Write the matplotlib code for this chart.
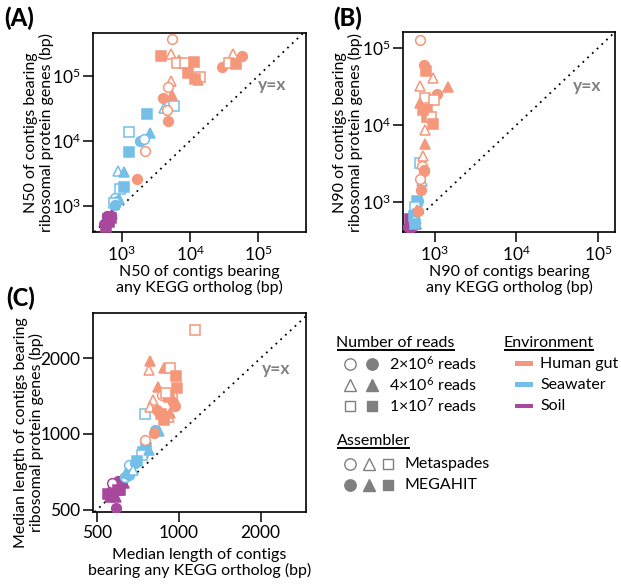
import matplotlib
matplotlib.use("Agg")
import matplotlib.pyplot as plt
from matplotlib.ticker import FixedLocator, FixedFormatter, NullLocator
from matplotlib.patches import Rectangle

plt.rcParams['font.family'] = ['Lato', 'DejaVu Sans']
plt.rcParams['mathtext.fontset'] = 'custom'
plt.rcParams['mathtext.rm'] = 'Lato'
plt.rcParams['mathtext.default'] = 'regular'

# ---------------- data ----------------
environments = ['Human gut', 'Seawater', 'Soil']
read_levels = ['2e6', '4e6', '1e7']
read_labels = ['2×10$^{6}$ reads', '4×10$^{6}$ reads', '1×10$^{7}$ reads']
assemblers = ['Metaspades', 'MEGAHIT']

# Panel A: N50
a_gut_reads = ['2e6', '1e7', '4e6', '4e6', '1e7', '1e7', '1e7', '1e7', '1e7', '1e7', '4e6', '4e6',
               '2e6', '2e6', '1e7', '1e7', '4e6', '2e6', '4e6', '2e6', '2e6', '2e6', '2e6', '2e6']
a_gut_asm = ['Metaspades', 'MEGAHIT', 'Metaspades', 'MEGAHIT', 'Metaspades', 'Metaspades', 'MEGAHIT',
             'MEGAHIT', 'Metaspades', 'MEGAHIT', 'MEGAHIT', 'Metaspades', 'MEGAHIT', 'MEGAHIT',
             'Metaspades', 'MEGAHIT', 'Metaspades', 'Metaspades', 'MEGAHIT', 'MEGAHIT', 'Metaspades',
             'MEGAHIT', 'Metaspades', 'MEGAHIT']
a_gut_x = [5500, 3760, 5260, 6960, 6380, 8450, 11560, 9250, 14000, 11800, 13200, 43000,
           57000, 29000, 37600, 46800, 5260, 4790, 5500, 4000, 4570, 4790, 2190, 1660]
a_gut_y = [367000, 205000, 218000, 176000, 160000, 160000, 162000, 112000, 95000, 89000, 87000, 218000,
           200000, 138000, 157000, 151000, 85000, 68000, 51000, 46000, 30000, 20000, 6900, 2570]

a_sea_reads = ['1e7', '4e6', '1e7', '1e7', '4e6', '2e6', '2e6', '1e7', '4e6', '4e6', '1e7', '1e7',
               '2e6', '2e6', '4e6', '1e7', '2e6']
a_sea_asm = ['Metaspades', 'Metaspades', 'MEGAHIT', 'Metaspades', 'MEGAHIT', 'MEGAHIT', 'Metaspades',
             'MEGAHIT', 'Metaspades', 'MEGAHIT', 'Metaspades', 'MEGAHIT', 'Metaspades', 'MEGAHIT',
             'MEGAHIT', 'Metaspades', 'MEGAHIT']
a_sea_x = [5900, 4170, 2320, 1260, 2570, 1860, 2140, 1260, 880, 1100, 930, 1070, 790, 850, 910, 760, 810]
a_sea_y = [34700, 31600, 26000, 13600, 13200, 10100, 10700, 6800, 3470, 3310, 1820, 1950, 1320, 1200,
           1260, 1120, 1050]

a_soil_reads = ['2e6', '4e6', '1e7', '2e6', '4e6', '1e7', '2e6', '4e6', '1e7', '2e6', '1e7']
a_soil_asm = ['MEGAHIT', 'MEGAHIT', 'MEGAHIT', 'Metaspades', 'MEGAHIT', 'MEGAHIT', 'MEGAHIT',
              'Metaspades', 'MEGAHIT', 'MEGAHIT', 'MEGAHIT']
a_soil_x = [560, 600, 640, 690, 720, 580, 620, 660, 700, 610, 650]
a_soil_y = [520, 590, 640, 700, 760, 480, 560, 600, 650, 700, 560]

# Panel B: N90
b_gut_reads = ['2e6', '2e6', '1e7', '4e6', '4e6', '4e6', '2e6', '1e7', '4e6', '1e7', '1e7', '1e7',
               '1e7', '1e7', '4e6', '4e6', '4e6', '2e6', '2e6', '2e6', '2e6', '2e6', '1e7', '2e6']
b_gut_asm = ['Metaspades', 'MEGAHIT', 'MEGAHIT', 'Metaspades', 'Metaspades', 'MEGAHIT', 'MEGAHIT',
             'Metaspades', 'MEGAHIT', 'Metaspades', 'MEGAHIT', 'MEGAHIT', 'Metaspades', 'MEGAHIT',
             'Metaspades', 'MEGAHIT', 'Metaspades', 'Metaspades', 'MEGAHIT', 'Metaspades', 'MEGAHIT',
             'MEGAHIT', 'MEGAHIT', 'MEGAHIT']
b_gut_x = [655, 733, 770, 946, 655, 1460, 1070, 748, 655, 977, 794, 813,
           903, 946, 769, 748, 713, 701, 733, 655, 676, 630, 708, 740]
b_gut_y = [128000, 60000, 50000, 40700, 32400, 31000, 25100, 22400, 19500, 20900, 15800, 12900,
           12600, 10200, 8700, 5600, 4000, 2950, 2500, 2000, 1440, 760, 15500, 2630]

b_sea_reads = ['1e7', '4e6', '2e6', '1e7', '2e6', '1e7', '4e6', '2e6', '1e7', '4e6', '2e6', '1e7']
b_sea_asm = ['Metaspades', 'Metaspades', 'MEGAHIT', 'MEGAHIT', 'Metaspades', 'Metaspades', 'MEGAHIT',
             'MEGAHIT', 'MEGAHIT', 'Metaspades', 'Metaspades', 'MEGAHIT']
b_sea_x = [655, 701, 630, 610, 590, 575, 600, 575, 560, 590, 550, 575]
b_sea_y = [3240, 1900, 1020, 1020, 910, 850, 790, 720, 660, 600, 560, 525]

b_soil_reads = ['2e6', '4e6', '1e7', '2e6', '4e6', '1e7', '2e6', '4e6', '1e7', '1e7']
b_soil_asm = ['MEGAHIT', 'MEGAHIT', 'MEGAHIT', 'MEGAHIT', 'Metaspades', 'MEGAHIT', 'MEGAHIT',
              'MEGAHIT', 'MEGAHIT', 'MEGAHIT']
b_soil_x = [470, 500, 520, 540, 560, 490, 530, 580, 510, 550]
b_soil_y = [480, 500, 520, 540, 560, 600, 470, 510, 550, 530]

# Panel C: median length
c_gut_reads = ['1e7', '4e6', '4e6', '4e6', '1e7', '1e7', '4e6', '1e7', '2e6', '2e6', '2e6', '4e6',
               '4e6', '2e6', '1e7', '2e6', '4e6', '1e7', '2e6', '2e6', '1e7', '2e6', '1e7', '4e6']
c_gut_asm = ['Metaspades', 'MEGAHIT', 'Metaspades', 'MEGAHIT', 'Metaspades', 'MEGAHIT', 'MEGAHIT',
             'MEGAHIT', 'Metaspades', 'Metaspades', 'MEGAHIT', 'Metaspades', 'Metaspades', 'MEGAHIT',
             'MEGAHIT', 'MEGAHIT', 'Metaspades', 'MEGAHIT', 'MEGAHIT', 'Metaspades', 'MEGAHIT',
             'MEGAHIT', 'Metaspades', 'MEGAHIT']
c_gut_x = [1146, 785, 775, 885, 931, 980, 839, 986, 868, 945, 967, 802,
           786, 830, 860, 900, 918, 880, 809, 754, 920, 950, 900, 930]
c_gut_y = [2575, 1941, 1797, 1826, 1826, 1690, 1534, 1520, 1429, 1408, 1292, 1365,
           1284, 1240, 1200, 1180, 1172, 1140, 1006, 947, 1400, 1340, 1450, 1210]

c_sea_reads = ['1e7', '4e6', '2e6', '1e7', '1e7', '1e7', '4e6', '2e6', '2e6', '2e6', '2e6', '4e6',
               '1e7', '4e6']
c_sea_asm = ['Metaspades', 'MEGAHIT', 'MEGAHIT', 'MEGAHIT', 'MEGAHIT', 'Metaspades', 'MEGAHIT',
             'Metaspades', 'MEGAHIT', 'Metaspades', 'MEGAHIT', 'Metaspades', 'MEGAHIT', 'MEGAHIT']
c_sea_x = [754, 844, 820, 760, 740, 730, 775, 658, 692, 633, 654, 680, 700, 640]
c_sea_y = [1201, 1031, 1037, 876, 850, 825, 860, 753, 764, 676, 687, 720, 780, 700]

c_soil_reads = ['2e6', '4e6', '1e7', '2e6', '4e6', '1e7', '2e6', '4e6', '1e7', '2e6', '1e7', '4e6']
c_soil_asm = ['MEGAHIT', 'MEGAHIT', 'MEGAHIT', 'Metaspades', 'MEGAHIT', 'MEGAHIT', 'Metaspades',
              'MEGAHIT', 'MEGAHIT', 'MEGAHIT', 'MEGAHIT', 'MEGAHIT']
c_soil_x = [600, 620, 580, 560, 590, 610, 570, 630, 550, 588, 600, 560]
c_soil_y = [650, 660, 620, 590, 560, 600, 640, 640, 580, 506, 600, 560]

# ---------------- styles ----------------
env_colors = {'Human gut': '#F4977B', 'Seawater': '#74BFE8', 'Soil': '#A8489D'}
read_markers = {'2e6': 'o', '4e6': '^', '1e7': 's'}
marker_sizes = {'o': 7.0, '^': 7.8, 's': 6.6}
legend_gray = '#7F7F7F'
label_fs = 11.5
tick_fs = 12.5

W, H = 621, 585
fig = plt.figure(figsize=(W / 100, H / 100), dpi=100)


def px_axes(l, t, r, b):
    return fig.add_axes([l / W, 1 - b / H, (r - l) / W, (b - t) / H])


def draw_points(ax, env, reads, asm, xs, ys):
    col = env_colors[env]
    for r, a, x, y in zip(reads, asm, xs, ys):
        m = read_markers[r]
        filled = (a == 'MEGAHIT')
        ax.plot([x], [y], marker=m, ls='none', ms=marker_sizes[m],
                mfc=col if filled else 'white', mec=col, mew=1.1, zorder=3)


def style_axes(ax):
    for s in ax.spines.values():
        s.set_linewidth(1.2)
    ax.tick_params(direction='out', length=7.5, width=1.1, labelsize=tick_fs, pad=1.5)
    ax.xaxis.set_minor_locator(NullLocator())
    ax.yaxis.set_minor_locator(NullLocator())


def yx_line(ax, p1, p2, label_pos):
    ax.axline(p1, p2, color='black', lw=1.3, ls=(0, (1, 2.6)), zorder=2)
    ax.text(label_pos[0], label_pos[1], 'y=x', transform=ax.transAxes, color='#808080',
            fontsize=12.5, fontweight='bold', ha='center', va='center')


def set_labels(ax, xl, yl, xlabel_top_px, ylabel_right_px, ylabel_center_px, ax_box):
    l, t, r, b = ax_box
    ax.set_xlabel(xl, fontsize=label_fs, linespacing=1.1, va='top')
    ax.xaxis.set_label_coords(0.5, (b - xlabel_top_px) / (b - t))
    ax.set_ylabel(yl, fontsize=label_fs, linespacing=1.1, va='bottom')
    ax.yaxis.set_label_coords((ylabel_right_px - l) / (r - l), (b - ylabel_center_px) / (b - t))


pow_ticks = [1e3, 1e4, 1e5]
pow_labels = ['$10^{3}$', '$10^{4}$', '$10^{5}$']

# Panel A
boxA = (93, 33, 306, 232)
axA = px_axes(*boxA)
axA.set_xscale('log'); axA.set_yscale('log')
draw_points(axA, 'Soil', a_soil_reads, a_soil_asm, a_soil_x, a_soil_y)
draw_points(axA, 'Seawater', a_sea_reads, a_sea_asm, a_sea_x, a_sea_y)
draw_points(axA, 'Human gut', a_gut_reads, a_gut_asm, a_gut_x, a_gut_y)
axA.set_xlim(10 ** 2.58, 10 ** 5.70)
axA.set_ylim(10 ** 2.60, 10 ** 5.66)
yx_line(axA, (1e3, 1e3), (1e4, 1e4), (0.84, 0.74))
for axis in (axA.xaxis, axA.yaxis):
    axis.set_major_locator(FixedLocator(pow_ticks))
    axis.set_major_formatter(FixedFormatter(pow_labels))
style_axes(axA)
set_labels(axA, 'N50 of contigs bearing\nany KEGG ortholog (bp)',
           'N50 of contigs bearing\nribosomal protein genes (bp)', 265, 54, 132.5, boxA)

# Panel B
boxB = (403, 32, 615, 232)
axB = px_axes(*boxB)
axB.set_xscale('log'); axB.set_yscale('log')
draw_points(axB, 'Soil', b_soil_reads, b_soil_asm, b_soil_x, b_soil_y)
draw_points(axB, 'Seawater', b_sea_reads, b_sea_asm, b_sea_x, b_sea_y)
draw_points(axB, 'Human gut', b_gut_reads, b_gut_asm, b_gut_x, b_gut_y)
axB.set_xlim(10 ** 2.61, 10 ** 5.21)
axB.set_ylim(10 ** 2.61, 10 ** 5.21)
yx_line(axB, (1e3, 1e3), (1e4, 1e4), (0.867, 0.73))
for axis in (axB.xaxis, axB.yaxis):
    axis.set_major_locator(FixedLocator(pow_ticks))
    axis.set_major_formatter(FixedFormatter(pow_labels))
style_axes(axB)
set_labels(axB, 'N90 of contigs bearing\nany KEGG ortholog (bp)',
           'N90 of contigs bearing\nribosomal protein genes (bp)', 265, 363, 132.5, boxB)

# Panel C
lin_ticks = [500, 1000, 2000]
lin_labels = ['500', '1000', '2000']
boxC = (93, 313, 306, 512)
axC = px_axes(*boxC)
axC.set_xscale('log'); axC.set_yscale('log')
draw_points(axC, 'Soil', c_soil_reads, c_soil_asm, c_soil_x, c_soil_y)
draw_points(axC, 'Seawater', c_sea_reads, c_sea_asm, c_sea_x, c_sea_y)
draw_points(axC, 'Human gut', c_gut_reads, c_gut_asm, c_gut_x, c_gut_y)
axC.set_xlim(484, 2934)
axC.set_ylim(490, 3019)
yx_line(axC, (1000, 1000), (2000, 2000), (0.86, 0.72))
for axis in (axC.xaxis, axC.yaxis):
    axis.set_major_locator(FixedLocator(lin_ticks))
    axis.set_major_formatter(FixedFormatter(lin_labels))
style_axes(axC)
set_labels(axC, 'Median length of contigs\nbearing any KEGG ortholog (bp)',
           'Median length of contigs bearing\nribosomal protein genes (bp)', 548, 44, 433, boxC)

# Panel letters
for lab, (x, y) in zip(['(A)', '(B)', '(C)'], [(4, 18), (333, 18), (6, 298)]):
    fig.text(x / W, 1 - y / H, lab, fontsize=17, fontweight='black', ha='left', va='center')

# ---------------- legend ----------------
lg = fig.add_axes([300 / W, 1 - 525 / H, 321 / W, 205 / H])
lg.set_xlim(300, 621)
lg.set_ylim(525, 320)
lg.axis('off')

titles = []
titles.append(lg.text(336.5, 342.5, 'Number of reads', fontsize=label_fs, ha='left', va='center'))
titles.append(lg.text(336.5, 440.5, 'Assembler', fontsize=label_fs, ha='left', va='center'))
titles.append(lg.text(503.5, 342.5, 'Environment', fontsize=label_fs, ha='left', va='center'))

row_y = [363.5, 384.5, 406]
for i, r in enumerate(read_levels):
    m = read_markers[r]
    lg.plot([349.5], [row_y[i]], marker=m, ls='none', ms=marker_sizes[m] + 1.2, mfc='white',
            mec=legend_gray, mew=1.0, clip_on=False)
    lg.plot([371.5], [row_y[i]], marker=m, ls='none', ms=marker_sizes[m] + 1.2, mfc=legend_gray,
            mec=legend_gray, mew=1.0, clip_on=False)
    lg.text(389, row_y[i], read_labels[i], fontsize=label_fs, ha='left', va='center')

asm_y = [463.5, 485]
for j, a in enumerate(assemblers):
    for k, r in enumerate(read_levels):
        m = read_markers[r]
        lg.plot([349.5 + 19 * k], [asm_y[j]], marker=m, ls='none', ms=marker_sizes[m] + 1.2,
                mfc=legend_gray if a == 'MEGAHIT' else 'white', mec=legend_gray, mew=1.0, clip_on=False)
    lg.text(404, asm_y[j], a, fontsize=label_fs, ha='left', va='center')

for i, e in enumerate(environments):
    lg.add_patch(Rectangle((515, row_y[i] - 2.2), 18, 4.4, color=env_colors[e], lw=0))
    lg.text(540, row_y[i], e, fontsize=label_fs, ha='left', va='center')

fig.canvas.draw()
renderer = fig.canvas.get_renderer()
inv = lg.transData.inverted()
for t in titles:
    bb = t.get_window_extent(renderer)
    (x0, y0), (x1, y1) = inv.transform([[bb.x0, bb.y0], [bb.x1, bb.y1]])
    lg.plot([x0, x1], [y0 + 0.5, y0 + 0.5], color='black', lw=1.4, solid_capstyle='butt', clip_on=False)

fig.savefig('out.png', dpi=100)
